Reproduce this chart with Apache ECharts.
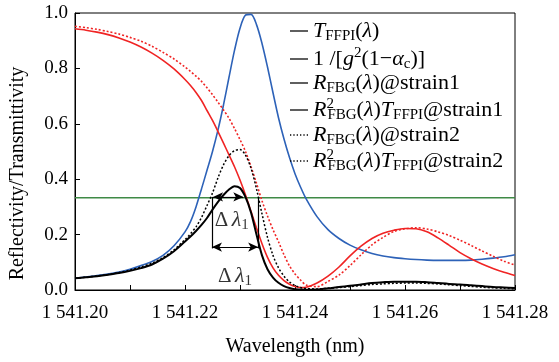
<!DOCTYPE html>
<html>
<head>
<meta charset="utf-8">
<script src="https://cdn.jsdelivr.net/npm/echarts@6/dist/echarts.min.js"></script>
<style>
  html, body { margin: 0; padding: 0; background: #fff; }
  #chart { width: 559px; height: 362px; }
</style>
</head>
<body>
<div id="chart"></div>
<script>
// sample wavelengths (nm) and values
const wl = [
  1541.200, 1541.202, 1541.204, 1541.206, 1541.208, 1541.210, 1541.212, 1541.214,
  1541.216, 1541.218, 1541.220, 1541.221, 1541.222, 1541.223, 1541.224, 1541.225,
  1541.226, 1541.227, 1541.228, 1541.229, 1541.230, 1541.231, 1541.232, 1541.233,
  1541.234, 1541.235, 1541.236, 1541.237, 1541.238, 1541.239, 1541.240, 1541.241,
  1541.242, 1541.244, 1541.246, 1541.248, 1541.250, 1541.252, 1541.254, 1541.256,
  1541.258, 1541.260, 1541.262, 1541.264, 1541.266, 1541.268, 1541.270, 1541.272,
  1541.274, 1541.276, 1541.278, 1541.280
];
const tFfpi = [
  0.042, 0.047, 0.052, 0.058, 0.065, 0.075, 0.088, 0.103,
  0.125, 0.160, 0.210, 0.247, 0.300, 0.365, 0.432, 0.500,
  0.578, 0.668, 0.768, 0.865, 0.945, 0.992, 0.995, 0.958,
  0.890, 0.805, 0.712, 0.622, 0.545, 0.478, 0.420, 0.372,
  0.330, 0.265, 0.218, 0.186, 0.162, 0.145, 0.132, 0.123,
  0.117, 0.113, 0.110, 0.108, 0.107, 0.107, 0.107, 0.108,
  0.111, 0.115, 0.120, 0.127
];
const rFbg1 = [
  0.943, 0.938, 0.931, 0.922, 0.910, 0.895, 0.877, 0.855,
  0.829, 0.798, 0.760, 0.738, 0.713, 0.684, 0.648, 0.612,
  0.572, 0.530, 0.488, 0.445, 0.397, 0.343, 0.284, 0.224,
  0.167, 0.118, 0.080, 0.053, 0.034, 0.021, 0.013, 0.009,
  0.010, 0.025, 0.050, 0.083, 0.123, 0.158, 0.186, 0.205,
  0.216, 0.222, 0.221, 0.210, 0.188, 0.162, 0.135, 0.113,
  0.094, 0.078, 0.064, 0.052
];
const rt1 = [
  0.042, 0.046, 0.050, 0.055, 0.061, 0.069, 0.079, 0.092,
  0.113, 0.140, 0.175, 0.193, 0.213, 0.235, 0.260, 0.290,
  0.318, 0.343, 0.363, 0.375, 0.368, 0.335, 0.280, 0.200,
  0.125, 0.075, 0.045, 0.026, 0.014, 0.007, 0.003, 0.002,
  0.001, 0.002, 0.006, 0.011, 0.015, 0.020, 0.025, 0.028,
  0.030, 0.030, 0.030, 0.028, 0.025, 0.022, 0.020, 0.017,
  0.014, 0.011, 0.009, 0.007
];
const rFbg2 = [
  0.952, 0.947, 0.941, 0.933, 0.924, 0.912, 0.898, 0.880,
  0.858, 0.834, 0.805, 0.789, 0.772, 0.753, 0.730, 0.705,
  0.678, 0.650, 0.620, 0.583, 0.543, 0.500, 0.445, 0.385,
  0.322, 0.267, 0.218, 0.174, 0.127, 0.087, 0.058, 0.036,
  0.018, 0.012, 0.031, 0.054, 0.088, 0.127, 0.163, 0.190,
  0.211, 0.221, 0.225, 0.220, 0.210, 0.197, 0.180, 0.161,
  0.141, 0.122, 0.104, 0.090
];
const rt2 = [
  0.042, 0.046, 0.051, 0.056, 0.063, 0.072, 0.083, 0.097,
  0.117, 0.145, 0.182, 0.203, 0.228, 0.262, 0.305, 0.350,
  0.405, 0.452, 0.485, 0.503, 0.507, 0.487, 0.440, 0.365,
  0.275, 0.190, 0.125, 0.080, 0.050, 0.029, 0.016, 0.009,
  0.005, 0.004, 0.006, 0.009, 0.012, 0.016, 0.020, 0.022,
  0.024, 0.025, 0.025, 0.024, 0.022, 0.019, 0.016, 0.013,
  0.010, 0.008, 0.006, 0.004
];
const gainLevel = 0.333;
// Δλ annotation: arrows, bracket lines and label anchors
const deltaArrows = [
  [[1541.2251, 0.336], [1541.2306, 0.336]],
  [[1541.2249, 0.155], [1541.2333, 0.155]]
];
const deltaBars = [
  [[1541.2249, 0.336], [1541.2249, 0.150]],
  [[1541.2334, 0.336], [1541.2334, 0.150]]
];
const deltaLabels = [[1541.2285, 0.252], [1541.2291, 0.050]];

const serif = 'Liberation Serif';
const names = ['T_FFPI', 'gain', 'R_FBG1', 'R2T1', 'R_FBG2', 'R2T2'];
const legendText = {
  T_FFPI: '{i|T}{sub|FFPI}{n|(}{i|λ}{n|)}',
  gain: '{n|1 /[}{i|g}{sup|2}{n|(1−}{i|α}{sub|c}{n|)]}',
  R_FBG1: '{i|R}{sub|FBG}{n|(}{i|λ}{n|)@strain1}',
  R2T1: '{i|R}{sup0|2}{sub|FBG}{n|(}{i|λ}{n|)}{i|T}{sub|FFPI}{n|@strain1}',
  R_FBG2: '{i|R}{sub|FBG}{n|(}{i|λ}{n|)@strain2}',
  R2T2: '{i|R}{sup0|2}{sub|FBG}{n|(}{i|λ}{n|)}{i|T}{sub|FFPI}{n|@strain2}'
};
const rich = {
  n: { fontFamily: serif, fontSize: 22, lineHeight: 26, color: '#000' },
  i: { fontFamily: serif, fontSize: 22, lineHeight: 26, fontStyle: 'italic', color: '#000' },
  sub: { fontFamily: serif, fontSize: 15, lineHeight: 13, verticalAlign: 'bottom', color: '#000' },
  sup: { fontFamily: serif, fontSize: 15, lineHeight: 13, verticalAlign: 'top', color: '#000' },
  sup0: { fontFamily: serif, fontSize: 15, lineHeight: 13, verticalAlign: 'top', width: 1, color: '#000' }
};
const legendTops = [20, 46, 72, 97, 124, 148];
const solidIcon = 'path://M0,0H20V1.4H0Z';
const dottedIcon = 'path://M0,0H1.4V1.4H0Z M3.7,0H5.1V1.4H3.7Z M7.4,0H8.8V1.4H7.4Z M11.1,0H12.5V1.4H11.1Z M14.8,0H16.2V1.4H14.8Z M18.5,0H19.9V1.4H18.5Z';
const legendDotted = [false, false, false, false, true, true];

const chart = echarts.init(document.getElementById('chart'));

function line(name, vals, color, width, dotted) {
  return {
    name: name, type: 'line', symbol: 'none', smooth: 0.3,
    data: wl.map((x, i) => [x, vals[i]]),
    lineStyle: { color: color, width: width, type: dotted ? [2, 2] : 'solid' },
    itemStyle: { color: color }, z: 3
  };
}

const option = {
  backgroundColor: '#fff',
  animation: false,
  grid: { left: 75, right: 44, top: 13, bottom: 64, show: true, borderColor: '#000', borderWidth: 1 },
  legend: names.map((n, k) => ({
    data: [{ name: n, icon: legendDotted[k] ? dottedIcon : solidIcon }],
    left: 290, top: legendTops[k], right: null, bottom: null,
    orient: 'vertical', itemWidth: 18, itemHeight: 1.4, padding: 0,
    itemStyle: { color: '#000', borderWidth: 0 },
    formatter: name => legendText[name],
    textStyle: { rich: rich }
  })),
  xAxis: {
    type: 'value', min: 1541.20, max: 1541.28, interval: 0.01,
    name: 'Wavelength (nm)', nameLocation: 'middle', nameGap: 47,
    nameTextStyle: { fontFamily: serif, fontSize: 20, color: '#000' },
    axisLine: { lineStyle: { color: '#000', width: 1 } },
    axisTick: { inside: true, length: 5, lineStyle: { color: '#000' } },
    axisLabel: {
      fontFamily: serif, fontSize: 19, color: '#000', margin: 14,
      formatter: v => {
        const k = Math.round((v - 1541.2) * 100);
        return k % 2 ? '' : '1 ' + v.toFixed(2).slice(1);
      }
    },
    splitLine: { show: false }
  },
  yAxis: {
    type: 'value', min: 0, max: 1, interval: 0.2,
    name: 'Reflectivity/Transmittivity', nameLocation: 'middle', nameGap: 47,
    nameTextStyle: { fontFamily: serif, fontSize: 20, color: '#000', padding: [0, 44, 0, 0] },
    axisLine: { lineStyle: { color: '#000', width: 1 } },
    axisTick: { inside: true, length: 5, lineStyle: { color: '#000' } },
    axisLabel: { fontFamily: serif, fontSize: 19, color: '#000', margin: 7, formatter: v => v.toFixed(1) },
    splitLine: { show: false }
  },
  series: [
    {
      name: names[1], type: 'line', symbol: 'none',
      data: [[1541.20, gainLevel], [1541.28, gainLevel]],
      lineStyle: { color: '#3f8a46', width: 1.6 }, itemStyle: { color: '#3f8a46' }, z: 2
    },
    line(names[0], tFfpi, '#2d62b8', 1.6, false),
    line(names[2], rFbg1, '#f02424', 1.6, false),
    line(names[4], rFbg2, '#f02424', 1.6, true),
    line(names[5], rt2, '#000', 1.5, true),
    Object.assign(line(names[3], rt1, '#000', 2, false), {
      markLine: {
        silent: true, animation: false, symbol: 'none',
        lineStyle: { color: '#000', width: 1.2, type: 'solid' },
        label: { show: false },
        data: deltaArrows.map(a => [
          { coord: a[0], symbol: 'arrow', symbolSize: [7, 10] },
          { coord: a[1], symbol: 'arrow', symbolSize: [7, 10] }
        ]).concat(deltaBars.map(b => [{ coord: b[0] }, { coord: b[1] }]))
      }
    }),
    {
      type: 'scatter', data: deltaLabels, symbolSize: 0, silent: true,
      label: {
        show: true, position: 'inside',
        formatter: '{d|Δ} {l|λ}{s|1}',
        rich: {
          d: { fontFamily: serif, fontSize: 21, color: '#000', lineHeight: 24 },
          l: { fontFamily: serif, fontSize: 22, fontStyle: 'italic', color: '#000', lineHeight: 24 },
          s: { fontFamily: serif, fontSize: 15, color: '#000', lineHeight: 13, verticalAlign: 'bottom' }
        }
      }
    }
  ]
};
chart.setOption(option);
</script>
</body>
</html>
